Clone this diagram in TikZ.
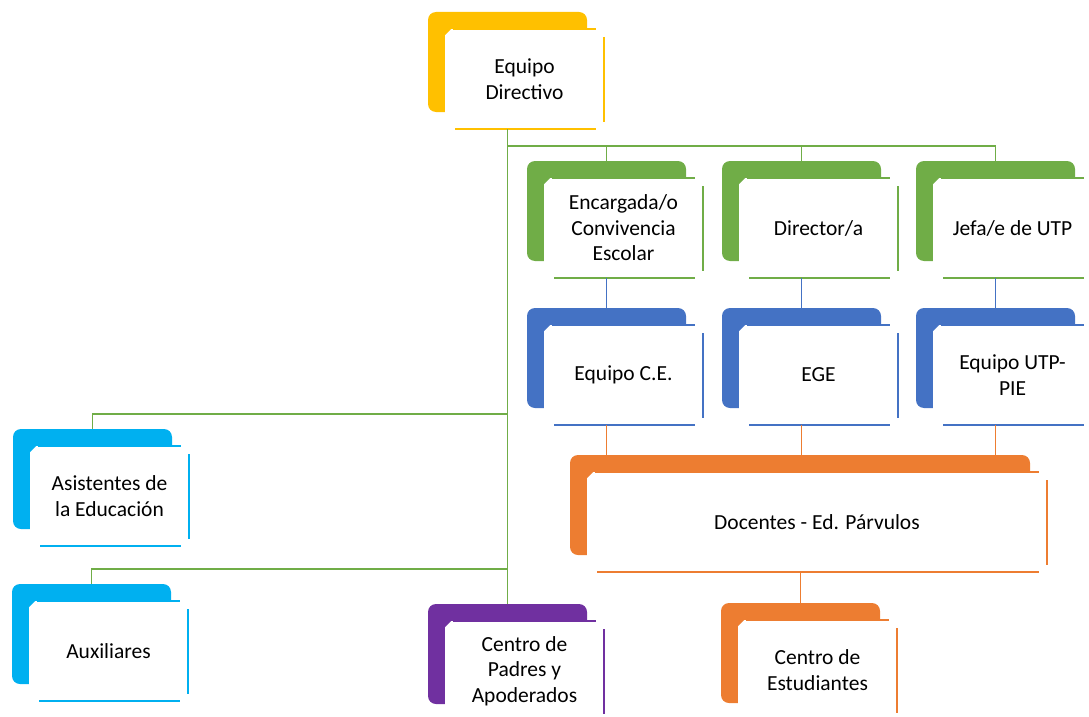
\documentclass[tikz,border=0pt]{standalone}
\usepackage{fontspec}
\setmainfont{Carlito}
\definecolor{cyel}{HTML}{FFC000}
\definecolor{cgre}{HTML}{70AD47}
\definecolor{cblu}{HTML}{4472C4}
\definecolor{cora}{HTML}{ED7D31}
\definecolor{cpur}{HTML}{7030A0}
\definecolor{clbl}{HTML}{00B0F0}
\tikzset{
  backbox/.style={rounded corners=8pt, minimum height=100pt, inner sep=0pt, outer sep=0pt, anchor=north west},
  frontbox/.style={fill=white, minimum height=100pt, inner sep=0pt, outer sep=0pt, anchor=north west, align=center,
    font=\fontsize{21.5}{25.5}\selectfont},
  edgeline/.style={draw=#1, line width=2pt},
  conn/.style={draw=#1, line width=1.8pt},
}
\newcommand\orgunit[6]{%
  \node[backbox, fill=#2, minimum width=#5] (#1b) at (#3,#4) {};
  \node[frontbox, minimum width=#5] (#1) at ([shift={(17,17)}]#1b.north west) {#6};
  \fill[#2] (#1.north west) -- ++(6,0) -- ++(-6,6) -- cycle;
  \draw[edgeline=#2] ([xshift=8pt]#1.north west) -- ([xshift=-8pt]#1.north east);
  \draw[edgeline=#2] ([yshift=-8pt]#1.north east) -- ([yshift=7pt]#1.south east);
  \draw[edgeline=#2] ([xshift=10pt]#1.south west) -- ([xshift=-8pt]#1.south east);
}
\begin{document}
\begin{tikzpicture}[x=1pt,y=-1pt]
\useasboundingbox (0,0) rectangle (1089,717);
\clip (0,0) rectangle (1089,717);
\orgunit{ed}{cyel}{428}{12}{159pt}{Equipo\\Directivo}
\orgunit{enc}{cgre}{527}{161}{159pt}{Encargada/o\\Convivencia\\Escolar}
\orgunit{dir}{cgre}{722}{161}{159pt}{Director/a}
\orgunit{jefa}{cgre}{916}{161}{159pt}{Jefa/e de UTP}
\orgunit{ece}{cblu}{527}{308}{159pt}{Equipo C.E.}
\orgunit{ege}{cblu}{722}{308}{159pt}{EGE}
\orgunit{utp}{cblu}{916}{308}{159pt}{Equipo UTP-\\PIE}
\orgunit{doc}{cora}{570}{455}{460pt}{Docentes - Ed. Párvulos}
\orgunit{asis}{clbl}{13}{429}{159pt}{Asistentes de\\la Educación}
\orgunit{aux}{clbl}{12}{584}{159pt}{Auxiliares}
\orgunit{cpa}{cpur}{428}{604}{159pt}{Centro de\\Padres y\\Apoderados}
\orgunit{ces}{cora}{721}{603}{159pt}{Centro de\\Estudiantes}
% connectors
\draw[conn=cgre] (edb.south |- ed.south) -- (edb.south |- cpab.north);
\draw[conn=cgre] (edb.south |- 0,146) -| (jefab.north);
\draw[conn=cgre] (encb.north |- 0,146) -- (encb.north);
\draw[conn=cgre] (dirb.north |- 0,146) -- (dirb.north);
\draw[conn=cgre] (edb.south |- 0,414) -| (asisb.north);
\draw[conn=cgre] (edb.south |- 0,569) -| (auxb.north);
\draw[conn=cblu] (encb.south |- enc.south) -- (eceb.north);
\draw[conn=cblu] (dirb.south |- dir.south) -- (egeb.north);
\draw[conn=cblu] (jefab.south |- jefa.south) -- (utpb.north);
\draw[conn=cora] (eceb.south |- ece.south) -- (eceb.south |- docb.north);
\draw[conn=cora] (egeb.south |- ege.south) -- (egeb.south |- docb.north);
\draw[conn=cora] (utpb.south |- utp.south) -- (utpb.south |- docb.north);
\draw[conn=cora] (cesb.north |- doc.south) -- (cesb.north);
\end{tikzpicture}
\end{document}
